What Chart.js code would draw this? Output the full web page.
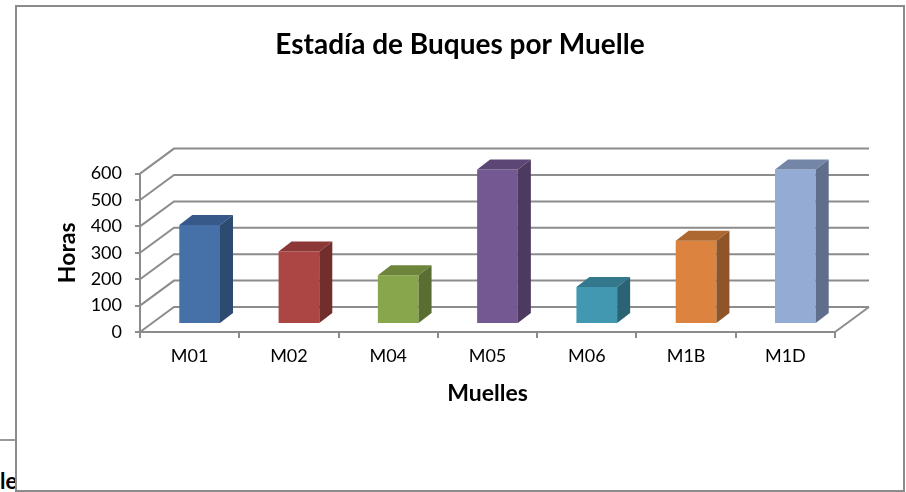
<!DOCTYPE html>
<html>
<head>
<meta charset="utf-8">
<script src="https://cdn.jsdelivr.net/npm/chart.js@4/dist/chart.umd.min.js"></script>
<style>
    html, body { margin: 0; padding: 0; background: #fff; width: 906px; height: 492px; overflow: hidden; }
    #regla { position: absolute; left: 0; top: 439px; width: 16px; border-top: 2px solid #9a9a9a; }
    #resto { position: absolute; left: 0; top: 467px; font: bold 22px Lato, sans-serif; color: #000; }
    #marco { position: absolute; left: 15px; top: 5px; width: 886px; height: 483px; border: 2px solid #8c8c8c; background: #fff; }
    #grafico { position: absolute; left: 0; top: 0; }
</style>
</head>
<body>
<div id="regla"></div>
<div id="resto">le</div>
<div id="marco"></div>
<canvas id="grafico" width="906" height="492"></canvas>
<script>
// Datos del gráfico
const muelles = ["M01", "M02", "M04", "M05", "M06", "M1B", "M1D"];
const horas = [375, 275, 185, 585, 140, 315, 585];
const ticksHoras = [0, 100, 200, 300, 400, 500, 600];

// Colores de cada barra: cara frontal, tapa y lateral
const colorFrente = ["#4570a8", "#ab4644", "#88a64c", "#735892", "#4298b1", "#dc843f", "#94abd3"];
const colorTapa = ["#37598a", "#8b3836", "#6c853b", "#5c4676", "#33788c", "#ad6730", "#7386a8"];
const colorLado = ["#2d4a70", "#722e2c", "#5a6e31", "#4c3a61", "#2a6374", "#8f5528", "#5e6e8b"];

const gris = "#8c8c8c";
const fondo = { dx: 34, dy: -25 };      // profundidad de la pared del fondo
const desplazamiento = { dx: 10, dy: -8 }; // posición de la barra dentro de la caja
const profundidad = { dx: 13, dy: -10 };   // grosor de cada barra

Chart.defaults.font.family = "Lato, 'DejaVu Sans', sans-serif";
Chart.defaults.color = "#000";

// Dibuja la caja 3D (paredes) y las caras superiores/laterales de las barras
const caja3d = {
    id: "caja3d",
    beforeDatasetsDraw(chart) {
        const { ctx, chartArea: a, scales } = chart;
        const y = scales.y;
        ctx.save();
        ctx.strokeStyle = gris;
        ctx.lineWidth = 2;
        ticksHoras.forEach(function (v) {
            const py = y.getPixelForValue(v);
            ctx.beginPath();
            ctx.moveTo(a.left, py);
            ctx.lineTo(a.left + fondo.dx, py + fondo.dy);
            ctx.lineTo(a.right + fondo.dx, py + fondo.dy);
            ctx.stroke();
        });
        const y0 = y.getPixelForValue(0);
        ctx.beginPath();
        ctx.moveTo(a.right, y0);
        ctx.lineTo(a.right + fondo.dx, y0 + fondo.dy);
        ctx.stroke();
        ctx.restore();

        // las caras frontales se dibujan desplazadas hacia el fondo
        ctx.save();
        ctx.translate(desplazamiento.dx, desplazamiento.dy);
    },
    afterDatasetsDraw(chart) {
        const ctx = chart.ctx;
        ctx.restore();
        const meta = chart.getDatasetMeta(0);
        meta.data.forEach(function (bar, i) {
            const p = bar.getProps(["x", "y", "base", "width"], true);
            const x1 = p.x - p.width / 2 + desplazamiento.dx;
            const x2 = p.x + p.width / 2 + desplazamiento.dx;
            const yt = p.y + desplazamiento.dy;
            const yb = p.base + desplazamiento.dy;
            const pdx = profundidad.dx, pdy = profundidad.dy;

            ctx.fillStyle = colorTapa[i];
            ctx.beginPath();
            ctx.moveTo(x1, yt);
            ctx.lineTo(x2, yt);
            ctx.lineTo(x2 + pdx, yt + pdy);
            ctx.lineTo(x1 + pdx, yt + pdy);
            ctx.closePath();
            ctx.fill();

            ctx.fillStyle = colorLado[i];
            ctx.beginPath();
            ctx.moveTo(x2, yt);
            ctx.lineTo(x2 + pdx, yt + pdy);
            ctx.lineTo(x2 + pdx, yb + pdy);
            ctx.lineTo(x2, yb);
            ctx.closePath();
            ctx.fill();
        });
    },
};

new Chart(document.getElementById("grafico"), {
    type: "bar",
    data: {
        labels: muelles,
        datasets: [
            {
                data: horas,
                backgroundColor: colorFrente,
                borderWidth: 0,
                barPercentage: 0.41,
                categoryPercentage: 1,
                clip: false,
            },
        ],
    },
    options: {
        responsive: false,
        animation: false,
        devicePixelRatio: 1,
        layout: { padding: { left: 14, right: 0, top: 0, bottom: 0 } },
        plugins: {
            legend: { display: false },
            tooltip: { enabled: false },
            title: {
                display: true,
                text: "Estadía de Buques por Muelle",
                color: "#000",
                font: { size: 28, weight: "bold" },
                padding: { top: 28, bottom: 112 },
            },
        },
        scales: {
            x: {
                grid: {
                    display: true,
                    drawOnChartArea: false,
                    drawTicks: true,
                    tickLength: 6,
                    tickColor: gris,
                    lineWidth: 2,
                },
                border: { display: true, color: gris, width: 2 },
                ticks: { font: { size: 18 }, padding: 7, color: "#000" },
                title: {
                    display: true,
                    text: "Muelles",
                    color: "#000",
                    font: { size: 23, weight: "bold" },
                    padding: { top: 0, bottom: 85 },
                },
                afterFit: function (scale) {
                    scale.height = 160;
                },
            },
            y: {
                min: 0,
                max: 600,
                ticks: { stepSize: 100, font: { size: 18 }, padding: 13, color: "#000" },
                afterBuildTicks: function (scale) {
                    scale.ticks = ticksHoras.map(function (v) { return { value: v }; });
                },
                grid: {
                    display: true,
                    drawOnChartArea: false,
                    drawTicks: true,
                    tickLength: 5,
                    tickColor: gris,
                    lineWidth: 2,
                },
                border: { display: true, color: gris, width: 2 },
                title: {
                    display: true,
                    text: "Horas",
                    color: "#000",
                    font: { size: 23, weight: "bold" },
                    padding: { top: 40, bottom: 0 },
                },
                afterFit: function (scale) {
                    scale.width = 126;
                },
            },
            derecha: {
                type: "linear",
                position: "right",
                ticks: { display: false },
                grid: { display: false },
                border: { display: false },
                afterFit: function (scale) {
                    scale.width = 71;
                },
            },
        },
    },
    plugins: [caja3d],
});
</script>
</body>
</html>
